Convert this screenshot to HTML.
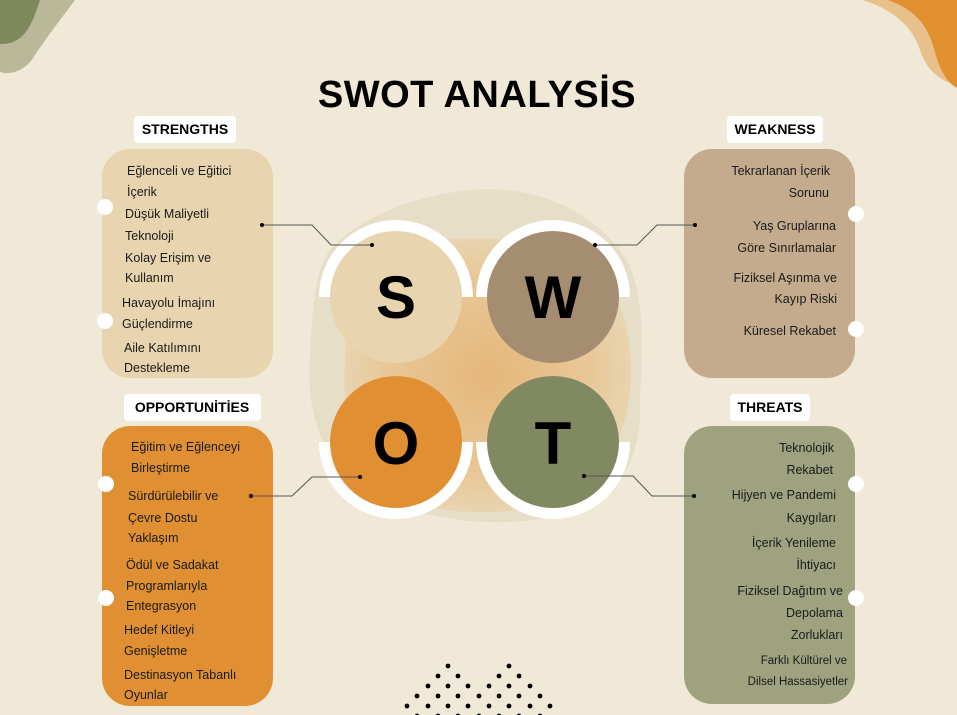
<!DOCTYPE html>
<html><head><meta charset="utf-8"><style>
html,body{margin:0;padding:0;background:#f0e9d7;}
svg{display:block;}
text{font-family:"Liberation Sans",sans-serif;fill:#1a1a1a;}
.t{font-size:12.5px;}
.h{font-size:14px;font-weight:bold;fill:#000;}
</style></head><body>
<svg width="957" height="715" viewBox="0 0 957 715" xmlns="http://www.w3.org/2000/svg">
<defs>
<radialGradient id="g1" cx="0.5" cy="0.5" r="0.6">
<stop offset="0" stop-color="#e5b272"/><stop offset="0.6" stop-color="#e8c592"/><stop offset="1" stop-color="#e8dcc0"/>
</radialGradient>
</defs>
<rect width="957" height="715" fill="#f0e9d7"/>
<!-- corner blobs -->
<path d="M0 0 H75 C60 20 45 40 35 55 C25 72 10 75 0 72 Z" fill="#b9b99a"/>
<path d="M0 0 H40 C35 15 30 30 20 38 C12 44 5 44 0 44 Z" fill="#7f875c"/>
<path d="M862 0 H957 V85 C935 80 925 65 920 50 C912 25 890 8 862 0 Z" fill="#e8c08c"/>
<path d="M888 0 H957 V88 C945 82 938 65 933 45 C925 20 910 8 888 0 Z" fill="#e0902f"/>
<!-- central background blobs -->
<path d="M330 250 C360 215 420 195 470 190 C520 185 580 200 620 250 C650 290 640 360 640 410 C640 460 620 500 560 515 C500 530 430 520 380 500 C330 480 305 420 310 360 C312 310 315 270 330 250 Z" fill="#e6dec6"/>
<path d="M350 260 C400 235 470 238 530 240 C590 243 625 290 630 350 C635 410 620 470 560 500 C500 520 430 515 380 490 C340 465 345 400 345 350 Z" fill="url(#g1)" opacity="0.9"/>
<!-- white half rings -->
<path d="M319 297 A77 77 0 0 1 473 297 Z" fill="#fff"/>
<path d="M476 297 A77 77 0 0 1 630 297 Z" fill="#fff"/>
<path d="M319 442 A77 77 0 0 0 473 442 Z" fill="#fff"/>
<path d="M476 442 A77 77 0 0 0 630 442 Z" fill="#fff"/>
<circle cx="396" cy="297" r="66" fill="#e8d4ae"/>
<circle cx="553" cy="297" r="66" fill="#a58d72"/>
<circle cx="396" cy="442" r="66" fill="#e09032"/>
<circle cx="553" cy="442" r="66" fill="#818962"/>
<text x="396" y="318" text-anchor="middle" style="font-size:60px;font-weight:bold;fill:#000">S</text>
<text x="553" y="318" text-anchor="middle" style="font-size:60px;font-weight:bold;fill:#000">W</text>
<text x="396" y="464" text-anchor="middle" style="font-size:60px;font-weight:bold;fill:#000">O</text>
<text x="553" y="464" text-anchor="middle" style="font-size:60px;font-weight:bold;fill:#000">T</text>
<!-- title -->
<text x="477" y="107" text-anchor="middle" style="font-size:38px;font-weight:bold;fill:#000;letter-spacing:0.5px">SWOT ANALYSİS</text>
<!-- boxes -->
<rect x="102" y="149" width="171" height="229" rx="28" fill="#e8d4ae"/>
<rect x="684" y="149" width="171" height="229" rx="28" fill="#c4ab8e"/>
<rect x="102" y="426" width="171" height="280" rx="28" fill="#e09032"/>
<rect x="684" y="426" width="171" height="278" rx="28" fill="#9fa27f"/>
<!-- label pills -->
<rect x="134" y="116" width="102" height="27" rx="4" fill="#fff"/>
<text x="185" y="134" text-anchor="middle" class="h">STRENGTHS</text>
<rect x="727" y="116" width="96" height="27" rx="4" fill="#fff"/>
<text x="775" y="134" text-anchor="middle" class="h">WEAKNESS</text>
<rect x="124" y="394" width="137" height="27" rx="4" fill="#fff"/>
<text x="192" y="412" text-anchor="middle" class="h">OPPORTUNİTİES</text>
<rect x="730" y="394" width="80" height="27" rx="4" fill="#fff"/>
<text x="770" y="412" text-anchor="middle" class="h">THREATS</text>
<!-- side dots -->
<g fill="#fff">
<circle cx="105" cy="207" r="8"/><circle cx="105" cy="321" r="8"/>
<circle cx="856" cy="214" r="8"/><circle cx="856" cy="329" r="8"/>
<circle cx="106" cy="484" r="8"/><circle cx="106" cy="598" r="8"/>
<circle cx="856" cy="484" r="8"/><circle cx="856" cy="598" r="8"/>
</g>
<!-- connectors -->
<g stroke="#555" stroke-width="1" fill="none">
<polyline points="262,225 312,225 331,245 372,245"/>
<polyline points="595,245 637,245 657,225 695,225"/>
<polyline points="251,496 292,496 312,477 360,477"/>
<polyline points="584,476 633,476 652,496 694,496"/>
</g>
<g fill="#000">
<circle cx="262" cy="225" r="2"/><circle cx="372" cy="245" r="2"/>
<circle cx="595" cy="245" r="2"/><circle cx="695" cy="225" r="2"/>
<circle cx="251" cy="496" r="2"/><circle cx="360" cy="477" r="2"/>
<circle cx="584" cy="476" r="2"/><circle cx="694" cy="496" r="2"/>
</g>
<g class="t">
<text x="127" y="175">Eğlenceli ve Eğitici</text>
<text x="127" y="196">İçerik</text>
<text x="125" y="218">Düşük Maliyetli</text>
<text x="125" y="240">Teknoloji</text>
<text x="125" y="262">Kolay Erişim ve</text>
<text x="125" y="282">Kullanım</text>
<text x="122" y="307">Havayolu İmajını</text>
<text x="122" y="328">Güçlendirme</text>
<text x="124" y="352">Aile Katılımını</text>
<text x="124" y="372">Destekleme</text>
</g>
<g class="t" text-anchor="end">
<text x="830" y="175">Tekrarlanan İçerik</text>
<text x="829" y="197">Sorunu</text>
<text x="836" y="230">Yaş Gruplarına</text>
<text x="836" y="252">Göre Sınırlamalar</text>
<text x="837" y="282">Fiziksel Aşınma ve</text>
<text x="837" y="303">Kayıp Riski</text>
<text x="836" y="335">Küresel Rekabet</text>
</g>
<g class="t">
<text x="131" y="451">Eğitim ve Eğlenceyi</text>
<text x="131" y="472">Birleştirme</text>
<text x="128" y="500">Sürdürülebilir ve</text>
<text x="128" y="522">Çevre Dostu</text>
<text x="128" y="542">Yaklaşım</text>
<text x="126" y="569">Ödül ve Sadakat</text>
<text x="126" y="590">Programlarıyla</text>
<text x="126" y="610">Entegrasyon</text>
<text x="124" y="634">Hedef Kitleyi</text>
<text x="124" y="655">Genişletme</text>
<text x="124" y="679">Destinasyon Tabanlı</text>
<text x="124" y="699">Oyunlar</text>
</g>
<g class="t" text-anchor="end">
<text x="834" y="452">Teknolojik</text>
<text x="833" y="474">Rekabet</text>
<text x="836" y="499">Hijyen ve Pandemi</text>
<text x="836" y="522">Kaygıları</text>
<text x="836" y="547">İçerik Yenileme</text>
<text x="836" y="569">İhtiyacı</text>
<text x="843" y="595">Fiziksel Dağıtım ve</text>
<text x="843" y="617">Depolama</text>
<text x="843" y="639">Zorlukları</text>
<text x="847" y="664" style="font-size:11.5px">Farklı Kültürel ve</text>
<text x="848" y="685" style="font-size:11.5px">Dilsel Hassasiyetler</text>
</g>
<!-- dot pattern -->
<g fill="#000">
<circle cx="448" cy="666" r="2.4"/><circle cx="509" cy="666" r="2.4"/>
<circle cx="438" cy="676" r="2.4"/><circle cx="458" cy="676" r="2.4"/><circle cx="499" cy="676" r="2.4"/><circle cx="519" cy="676" r="2.4"/>
<circle cx="428" cy="686" r="2.4"/><circle cx="448" cy="686" r="2.4"/><circle cx="468" cy="686" r="2.4"/><circle cx="489" cy="686" r="2.4"/><circle cx="509" cy="686" r="2.4"/><circle cx="530" cy="686" r="2.4"/>
<circle cx="417" cy="696" r="2.4"/><circle cx="438" cy="696" r="2.4"/><circle cx="458" cy="696" r="2.4"/><circle cx="479" cy="696" r="2.4"/><circle cx="499" cy="696" r="2.4"/><circle cx="519" cy="696" r="2.4"/><circle cx="540" cy="696" r="2.4"/>
<circle cx="407" cy="706" r="2.4"/><circle cx="428" cy="706" r="2.4"/><circle cx="448" cy="706" r="2.4"/><circle cx="468" cy="706" r="2.4"/><circle cx="489" cy="706" r="2.4"/><circle cx="509" cy="706" r="2.4"/><circle cx="530" cy="706" r="2.4"/><circle cx="550" cy="706" r="2.4"/>
<circle cx="417" cy="716" r="2.4"/><circle cx="438" cy="716" r="2.4"/><circle cx="458" cy="716" r="2.4"/><circle cx="479" cy="716" r="2.4"/><circle cx="499" cy="716" r="2.4"/><circle cx="519" cy="716" r="2.4"/><circle cx="540" cy="716" r="2.4"/>
</g>
</svg>
</body></html>
